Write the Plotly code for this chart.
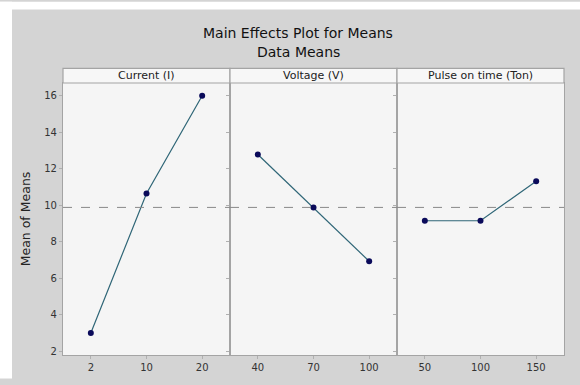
import plotly.graph_objects as go
from plotly.subplots import make_subplots

factors = ["Current (I)", "Voltage (V)", "Pulse on time (Ton)"]
current_levels = ["2", "10", "20"]
current_means = [3.0, 10.64, 16.0]
voltage_levels = ["40", "70", "100"]
voltage_means = [12.78, 9.87, 6.93]
pulse_levels = ["50", "100", "150"]
pulse_means = [9.15, 9.15, 11.32]
y_ticks = [2, 4, 6, 8, 10, 12, 14, 16]

levels = [current_levels, voltage_levels, pulse_levels]
means = [current_means, voltage_means, pulse_means]
grand_mean = sum(current_means) / len(current_means)

W, H = 580, 385
ML, MR, MT, MB = 63, 16, 83, 24
pw = W - ML - MR
ph = H - MT - MB

FONT = "DejaVu Sans"

fig = make_subplots(rows=1, cols=3, shared_yaxes=True, horizontal_spacing=0)

for i in range(3):
    fig.add_trace(go.Scatter(
        x=levels[i], y=means[i], mode="lines+markers",
        line=dict(color="#2f6677", width=1.2),
        marker=dict(color="#0a0a5a", size=6),
        showlegend=False, hoverinfo="x+y"), row=1, col=i + 1)
    fig.update_xaxes(type="category", range=[-0.5, 2.5], row=1, col=i + 1,
                     showgrid=False, zeroline=False, showline=True, mirror=True,
                     linecolor="#a4a4a4", linewidth=1.2, ticks="outside", ticklen=3,
                     tickcolor="#b0b0b0", tickfont=dict(size=10, color="#333333",
                                                         family=FONT))

fig.update_yaxes(range=[1.79, 16.7], tickvals=y_ticks, showgrid=False, zeroline=False,
                 showline=True, mirror=True, linecolor="#a4a4a4", linewidth=1.2,
                 ticks="outside", ticklen=3, tickcolor="#b0b0b0",
                 tickfont=dict(size=10, color="#333333", family=FONT))
fig.update_yaxes(title=dict(text="Mean of Means", standoff=10,
                            font=dict(size=12.5, color="#222222", family=FONT)),
                 row=1, col=1)

def px_x(p):
    return (p - ML) / pw

def px_y(p):
    return (H - MB - p) / ph

shapes = []
# white border strips (top and left) around the grey page
shapes.append(dict(type="rect", xref="paper", yref="paper",
                   x0=px_x(0), x1=px_x(W), y0=px_y(8), y1=px_y(0),
                   fillcolor="white", line=dict(width=0)))
shapes.append(dict(type="rect", xref="paper", yref="paper",
                   x0=px_x(0), x1=px_x(12), y0=px_y(H), y1=px_y(0),
                   fillcolor="white", line=dict(width=0)))
# strip headers
strip_top = px_y(68)
for i in range(3):
    shapes.append(dict(type="rect", xref="paper", yref="paper",
                       x0=i / 3, x1=(i + 1) / 3, y0=1, y1=strip_top,
                       fillcolor="#f7f7f7", line=dict(color="#a4a4a4", width=1.2)))
    fig.add_annotation(x=(i + 0.5) / 3, y=(1 + strip_top) / 2, xref="paper", yref="paper",
                       text=factors[i], showarrow=False, xanchor="center", yanchor="middle",
                       font=dict(size=11, color="#222222", family=FONT))
# reference line at grand mean
for i in range(3):
    xr = "x domain" if i == 0 else f"x{i + 1} domain"
    shapes.append(dict(type="line", xref=xr, yref="y", x0=0, x1=1,
                       y0=grand_mean, y1=grand_mean,
                       line=dict(color="#8a8a8a", width=1, dash="dash")))

fig.add_annotation(x=px_x(298), y=px_y(32), xref="paper", yref="paper",
                   text="Main Effects Plot for Means", showarrow=False,
                   xanchor="center", yanchor="middle",
                   font=dict(size=14, color="#111111", family=FONT))
fig.add_annotation(x=px_x(298), y=px_y(51), xref="paper", yref="paper",
                   text="Data Means", showarrow=False,
                   xanchor="center", yanchor="middle",
                   font=dict(size=14, color="#111111", family=FONT))

fig.update_layout(width=W, height=H, margin=dict(l=ML, r=MR, t=MT, b=MB),
                  paper_bgcolor="#d4d4d4", plot_bgcolor="#f5f5f5", shapes=shapes)

fig.write_html("out.html", config={"displayModeBar": False},
               post_script="document.body.style.margin='0';")
